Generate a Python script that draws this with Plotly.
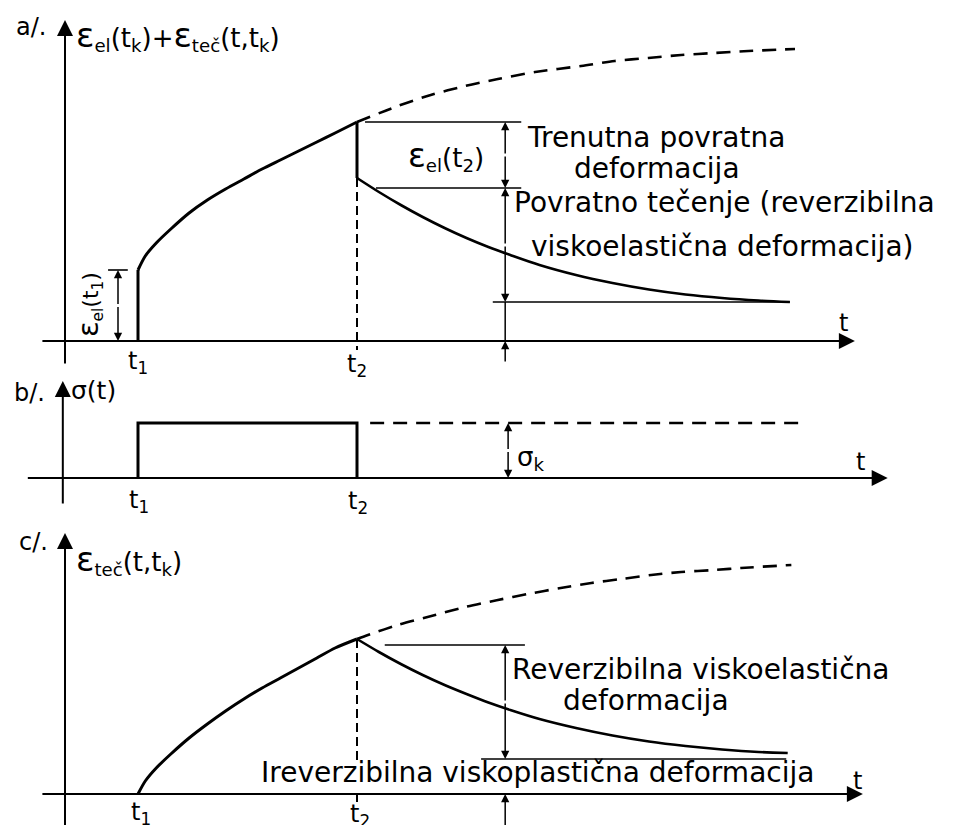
import plotly.graph_objects as go

# ---------------- data (time in arbitrary units, strain/stress in arbitrary units) -------------
t1, t2 = 1.0, 4.0          # loading / unloading instants
t_dim = 6.03               # position of the dimension lines

# panel a: elastic + creep strain
a_eps_el_t1 = 7.1
a_rise_t = [1.0, 1.1, 1.25, 1.45, 1.7, 1.95, 2.2, 2.45, 2.7, 2.95, 3.2, 3.45, 3.7, 4.0]
a_rise_e = [7.1, 8.5, 9.8, 11.2, 12.8, 14.1, 15.2, 16.2, 17.2, 18.1, 19.0, 19.9, 20.8, 21.9]
a_ext_t = [4.0, 4.56, 5.01, 5.48, 5.93, 6.44, 7.07, 7.53, 7.99, 8.44, 8.90, 9.36, 10.0]
a_ext_e = [21.9, 23.5, 24.6, 25.5, 26.2, 26.9, 27.5, 28.0, 28.3, 28.6, 28.8, 29.0, 29.2]
a_rec_t = [4.0, 4.3, 4.6, 4.9, 5.2, 5.5, 5.8, 6.1, 6.5, 7.0, 7.5, 8.0, 8.5, 9.0, 9.5, 9.93]
a_rec_e = [16.3, 14.9, 13.6, 12.4, 11.3, 10.3, 9.4, 8.6, 7.6, 6.6, 5.8, 5.15, 4.65, 4.3, 4.05, 3.9]
a_ref_levels = [21.9, 15.3, 3.9]
a_ref_spans = [(4.11, 6.25), (4.26, 6.25), (5.86, 9.93)]

# panel b: stress history
sigma_k = 5.5
b_dash_span = (4.18, 10.05)

# panel c: creep strain only
c_rise_t = [1.0, 1.1, 1.25, 1.45, 1.7, 1.95, 2.2, 2.45, 2.7, 2.95, 3.2, 3.45, 3.7, 4.0]
c_rise_e = [0.0, 1.3, 2.6, 4.0, 5.6, 7.0, 8.3, 9.5, 10.6, 11.6, 12.6, 13.6, 14.6, 15.5]
c_ext_t = [4.0, 4.15, 4.56, 5.07, 5.48, 5.93, 6.34, 6.79, 7.21, 7.62, 8.03, 8.44, 8.90, 9.26, 9.95]
c_ext_e = [15.5, 15.9, 16.9, 17.9, 18.7, 19.4, 20.0, 20.6, 21.1, 21.5, 21.9, 22.2, 22.4, 22.6, 22.9]
c_rec_t = [4.0, 4.3, 4.6, 4.9, 5.2, 5.5, 5.8, 6.1, 6.5, 7.0, 7.5, 8.0, 8.5, 9.0, 9.5, 9.9]
c_rec_e = [15.5, 14.2, 13.0, 11.9, 10.9, 10.0, 9.15, 8.4, 7.5, 6.6, 5.85, 5.25, 4.8, 4.45, 4.2, 4.1]
c_ref_levels = [14.9, 3.5]
c_ref_spans = [(4.38, 6.30), (5.70, 9.88)]

# ---------------- figure ----------------
FONT = "DejaVu Sans"
BODY = 28
fig = go.Figure()


def line(xs, ys, yax, width=2.5, dash=None, shape="linear"):
    fig.add_trace(go.Scatter(
        x=xs, y=ys, xaxis="x", yaxis=yax, mode="lines",
        line=dict(color="black", width=width, dash=dash, shape=shape, smoothing=0.8),
        hoverinfo="skip", showlegend=False))


ann = []


def text(x, y, yref, s, size=BODY, xanchor="center", yanchor="middle", angle=0):
    ann.append(dict(x=x, y=y, xref="x", yref=yref, text=s, showarrow=False,
                    xanchor=xanchor, yanchor=yanchor, textangle=angle,
                    font=dict(family=FONT, size=size, color="black")))


def arrow(x, y, ax, ay, yref, width=1.5, size=1.1):
    ann.append(dict(x=x, y=y, ax=ax, ay=ay, xref="x", yref=yref, axref="x", ayref=yref,
                    showarrow=True, arrowhead=2, arrowsize=size, arrowwidth=width,
                    arrowcolor="black", text="", standoff=0, startstandoff=0))


def dbl(x, y0, y1, yref):
    m = (y0 + y1) / 2
    arrow(x, y0, x, m, yref)
    arrow(x, y1, x, m, yref)


def eps(px):
    return '<span style="font-size:%dpx">ε</span>' % px


# ===== panel a =====
ya = "y"
arrow(10.82, 0, -0.33, 0, ya, width=2, size=1.6)          # t axis
arrow(0, 32.1, 0, -2.4, ya, width=2, size=1.6)            # strain axis
line([t1, t1], [0, a_eps_el_t1], ya, 3)
line(a_rise_t, a_rise_e, ya, 3, shape="spline")
line([t2, t2], [a_rise_e[-1], a_rec_e[0]], ya, 3)
line(a_rec_t, a_rec_e, ya, 2.6, shape="spline")
line(a_ext_t, a_ext_e, ya, 2.6, dash="14px,9px", shape="spline")
line([t2, t2], [a_rec_e[0], -0.9], ya, 2, dash="9px,5px")
for lev, (s0, s1) in zip(a_ref_levels, a_ref_spans):
    line([s0, s1], [lev, lev], ya, 1.6)
dbl(t_dim, a_ref_levels[0], a_ref_levels[1], ya)
dbl(t_dim, a_ref_levels[1], a_ref_levels[2], ya)
line([t_dim, t_dim], [a_ref_levels[2], 0], ya, 1.5)
arrow(t_dim, 0, t_dim, -2.2, ya)
# left dimension for elastic strain at t1
x_el = 0.726
line([0.59, 0.86], [a_eps_el_t1, a_eps_el_t1], ya, 1.6)
dbl(x_el, a_eps_el_t1, 0, ya)
text(0.33, 3.6, ya, eps(29) + "<sub>el</sub>(t<sub>1</sub>)", size=22, angle=-90)
text(-0.70, 31.4, ya, "a/.", size=24, xanchor="left")
text(0.12, 30.6, ya, eps(34) + "<sub>el</sub>(t<sub>k</sub>)+" + eps(34) + "<sub>teč</sub>(t,t<sub>k</sub>)",
     size=26, xanchor="left")
text(10.66, 1.8, ya, "t", size=24)
text(t1, -2.1, ya, "t<sub>1</sub>", size=24)
text(t2, -2.4, ya, "t<sub>2</sub>", size=24)
text(5.22, 18.5, ya, eps(33) + "<sub>el</sub>(t<sub>2</sub>)", size=26)
text(8.09, 20.4, ya, "Trenutna povratna")
text(8.11, 17.3, ya, "deformacija")
text(9.03, 13.9, ya, "Povratno tečenje (reverzibilna")
text(9.00, 9.5, ya, "viskoelastična deformacija)")

# ===== panel b =====
yb = "y2"
arrow(11.27, 0, -0.53, 0, yb, width=2, size=1.6)
arrow(-0.03, 9.7, -0.03, -2.7, yb, width=2, size=1.6)
line([t1, t1, t2, t2], [0, sigma_k, sigma_k, 0], yb, 3)
line(list(b_dash_span), [sigma_k, sigma_k], yb, 2.6, dash="14px,9px")
dbl(6.07, sigma_k, 0, yb)
text(-0.72, 8.5, yb, "b/.", size=24, xanchor="left")
text(0.06, 8.8, yb, "σ(t)", size=25, xanchor="left")
text(6.38, 2.0, yb, "σ<sub>k</sub>", size=26)
text(10.9, 1.6, yb, "t", size=24)
text(t1 + 0.02, -2.3, yb, "t<sub>1</sub>", size=24)
text(t2 + 0.02, -2.4, yb, "t<sub>2</sub>", size=24)

# ===== panel c =====
yc = "y3"
arrow(10.93, 0, -0.33, 0, yc, width=2, size=1.6)
arrow(0, 26.1, 0, -3.9, yc, width=2, size=1.6)
line(c_rise_t, c_rise_e, yc, 3, shape="spline")
line(c_rec_t, c_rec_e, yc, 2.6, shape="spline")
line(c_ext_t, c_ext_e, yc, 2.6, dash="14px,9px", shape="spline")
line([t2, t2], [c_rise_e[-1], 3.4], yc, 2, dash="9px,5px")
line([t2, t2], [0, -0.8], yc, 2)
for lev, (s0, s1) in zip(c_ref_levels, c_ref_spans):
    line([s0, s1], [lev, lev], yc, 1.6)
dbl(t_dim, c_ref_levels[0], c_ref_levels[1], yc)
arrow(t_dim, 0, t_dim, -3.8, yc)
text(-0.66, 25.2, yc, "c/.", size=24, xanchor="left")
text(0.12, 23.4, yc, eps(34) + "<sub>teč</sub>(t,t<sub>k</sub>)", size=26, xanchor="left")
text(8.71, 12.4, yc, "Reverzibilna viskoelastična")
text(7.96, 9.3, yc, "deformacija")
text(6.47, 2.1, yc, "Ireverzibilna viskoplastična deformacija")
text(10.85, 1.3, yc, "t", size=24)
text(t1 + 0.04, -2.0, yc, "t<sub>1</sub>", size=24)
text(t2 + 0.04, -2.2, yc, "t<sub>2</sub>", size=24)

hidden = dict(visible=False, fixedrange=True)
fig.update_layout(
    width=955, height=825,
    margin=dict(l=0, r=0, t=0, b=0),
    paper_bgcolor="white", plot_bgcolor="white",
    showlegend=False,
    xaxis=dict(domain=[0, 1], range=[-0.7808, 12.3014], **hidden),
    yaxis=dict(domain=[0.54909, 1], range=[-3.9, 33.3], **hidden),
    yaxis2=dict(domain=[0.38788, 0.54909], range=[-3.5, 9.8], anchor="x", **hidden),
    yaxis3=dict(domain=[0, 0.38788], range=[-3.9, 28.1], anchor="x", **hidden),
    annotations=ann,
)
fig.write_html("out.html")
